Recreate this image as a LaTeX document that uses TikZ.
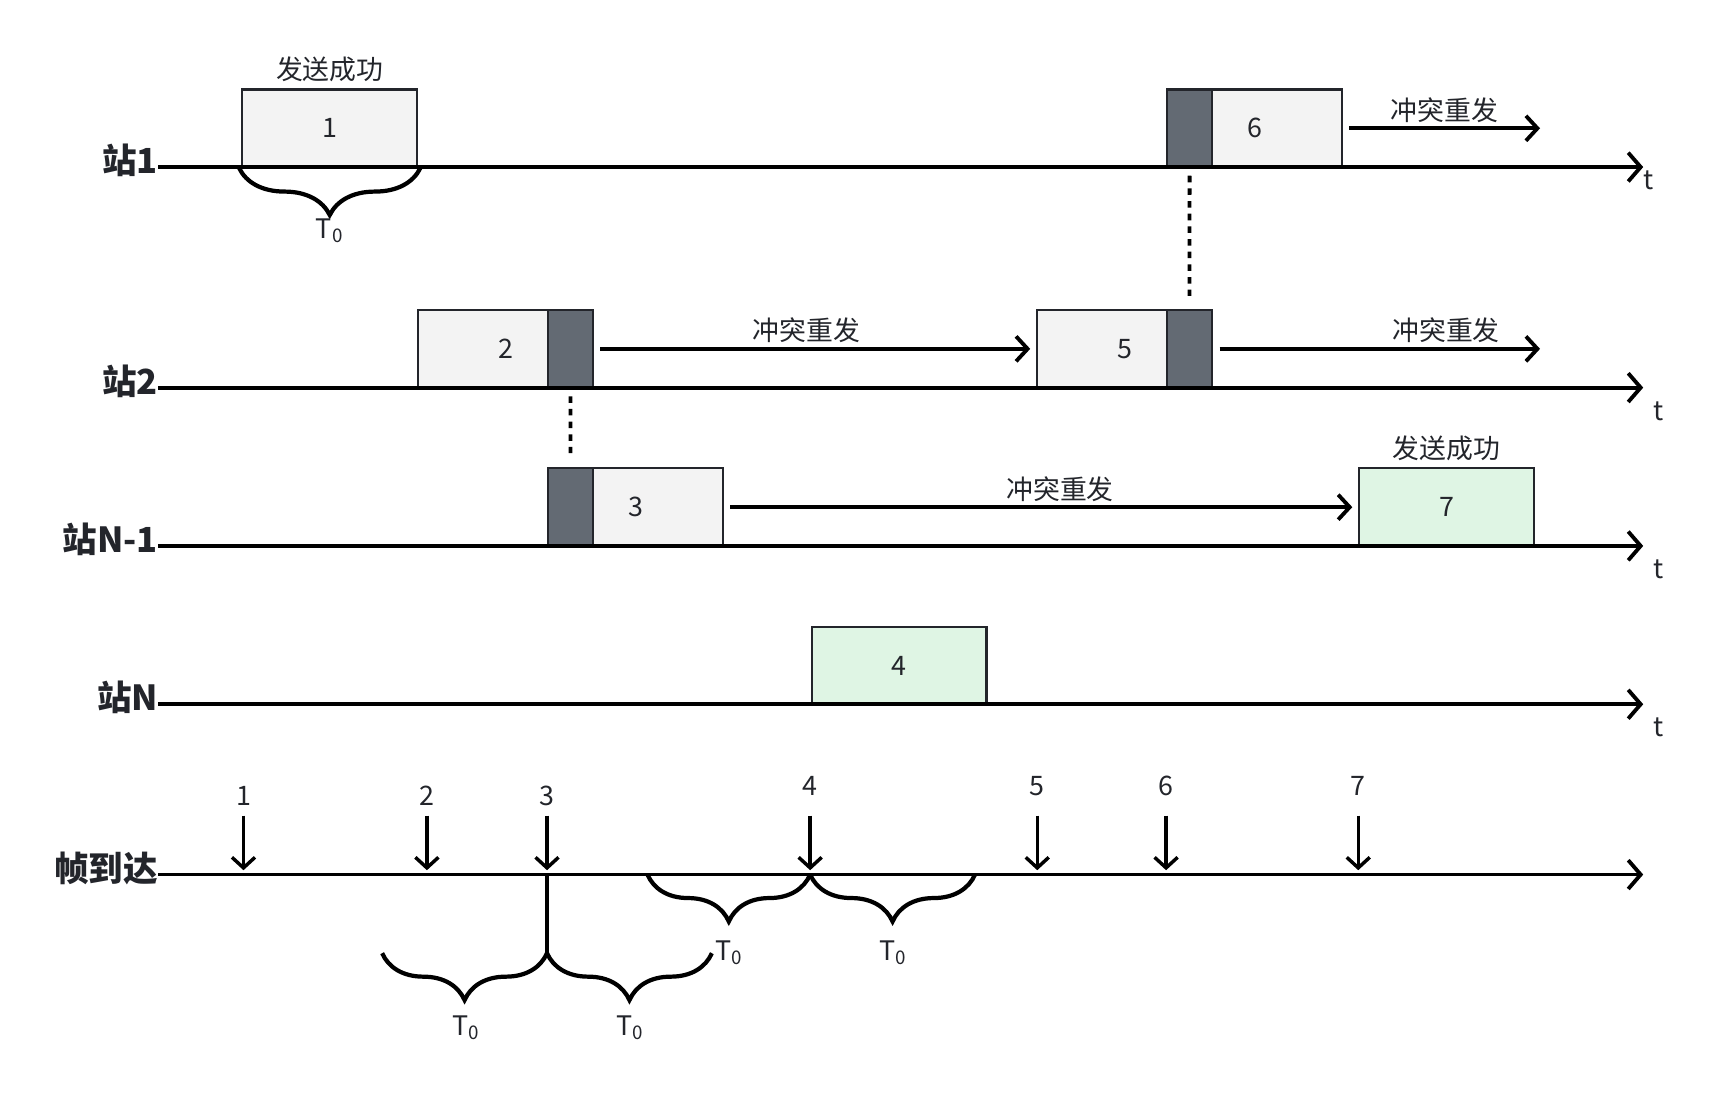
\documentclass[tikz,border=0pt]{standalone}
\usepackage{fontspec}
\setmainfont{Noto Sans CJK SC}
\usetikzlibrary{arrows.meta,positioning,calc,decorations.pathreplacing}
\definecolor{pktgray}{HTML}{F3F3F3}
\definecolor{jamgray}{HTML}{636A73}
\definecolor{okgreen}{HTML}{DFF5E4}
\definecolor{ink}{HTML}{23252B}
\tikzset{
    pkt/.style={draw=ink,line width=1.1pt,fill=pktgray,minimum width=3.2cm,minimum height=1.42cm,inner sep=0pt,text=ink,font=\fontsize{14}{16}\selectfont},
    okpkt/.style={pkt,fill=okgreen},
    jam/.style={draw=ink,line width=1.1pt,fill=jamgray,minimum width=0.82cm,minimum height=1.42cm,inner sep=0pt},
    axis/.style={line width=2pt,-{Straight Barb[length=6.5pt,width=15pt]}},
    resend/.style={line width=2pt,-{Straight Barb[length=6pt,width=13pt]},shorten <=0.12cm,shorten >=0.11cm},
    arrive/.style={line width=1.8pt,-{Straight Barb[length=5.5pt,width=12pt]}},
    brc/.style={line width=2.2pt,decorate,decoration={brace,mirror,amplitude=0.86cm}},
    sync/.style={line width=2pt,dash pattern=on 3.4pt off 3.2pt},
    stlabel/.style={anchor=east,inner sep=0pt,text=ink,font=\bfseries\fontsize{18}{20}\selectfont},
    lbl/.style={inner sep=1pt,text=ink,font=\fontsize{14}{16}\selectfont}
}

\begin{document}
\begin{tikzpicture}[x=0.02cm,y=-0.02cm]
    \useasboundingbox (0,0) rectangle (1568,1002);

    % station 1
    \node[pkt] (p1) at (302,117.5) {1};
    \node[lbl,above=0.08cm of p1] (ok1) {发送成功};
    \node[pkt] (p6) at (1149,117.5) {6};
    \node[jam,anchor=north west] (j6) at (p6.north west) {};
    \coordinate (r6) at (1416,117.5);
    \draw[resend] (p6.east) -- node[lbl,above=1pt] (rs6) {冲突重发} (r6);

    % station 2
    \node[pkt] (p2) at (463,319.5) {2};
    \node[jam,anchor=north east] (j2) at (p2.north east) {};
    \node[pkt] (p5) at (1030,319.5) {5};
    \node[jam,anchor=north east] (j5) at (p5.north east) {};
    \coordinate (r5) at (1416,319.5);
    \draw[resend] (j2.east) -- node[lbl,above=1pt,pos=0.48] (rs2) {冲突重发} (p5.west);
    \draw[resend] (j5.east) -- node[lbl,above=1pt,pos=0.7] (rs5) {冲突重发} (r5);

    % station N-1
    \node[pkt] (p3) at (582,464.5) {3};
    \node[jam,anchor=north west] (j3) at (p3.north west) {};
    \node[okpkt] (p7) at (1325,464.5) {7};
    \node[lbl,above=0.08cm of p7] (ok7) {发送成功};
    \draw[resend] (p3.east) -- node[lbl,above=1pt,pos=0.53] (rs3) {冲突重发} (p7.west);

    % station N
    \node[okpkt] (p4) at (823.5,609.5) {4};

    % collisions
    \draw[sync,shorten <=0.14cm,shorten >=0.24cm] (j6.south) -- (j5.north);
    \draw[sync,shorten <=0.14cm,shorten >=0.26cm] (j2.south) -- (j3.north);

    % time axes
    \foreach \n/\y/\lab in {1/153/站1,2/355/站2,3/500/站N-1,4/645/站N,5/801/帧到达} {
        \coordinate (s\n) at (145,\y);
        \coordinate (e\n) at (1505,\y);
        \node[stlabel] (l\n) at ([yshift=0.12cm]s\n) {\lab};
        \draw[axis] (s\n) -- (e\n);
    }
    \node[lbl] (t1) at (1510,165) {t};
    \foreach \n/\y in {2/377,3/521,4/666} {\node[lbl] (t\n) at (1519,\y) {t};}

    % frame arrivals
    \foreach \i/\x/\ly in {1/223/729,2/391/729,3/501/729,4/742/720,5/950/720,6/1068/720,7/1244/720} {
        \node[lbl] (f\i) at (\x,\ly) {\i};
        \coordinate (ft\i) at (\x,747);
        \coordinate (fa\i) at (\x,797);
        \draw[arrive] (ft\i) -- (fa\i);
    }

    % vulnerable periods
    \draw[brc] ([xshift=-0.04cm]p1.south west) -- ([xshift=0.04cm]p1.south east);
    \node[lbl] (T1) at (302,211) {T\textsubscript{0}};

    \coordinate (c3) at (501,801);
    \coordinate (b3) at (501,873);
    \coordinate (bl) at (350,873);
    \coordinate (br) at (652,873);
    \draw[line width=1.8pt] (c3) -- (b3);
    \draw[brc] (bl) -- (b3);
    \draw[brc] (b3) -- (br);
    \node[lbl] (T2) at (427,941) {T\textsubscript{0}};
    \node[lbl] (T3) at (577,941) {T\textsubscript{0}};

    \coordinate (ul) at (593,801);
    \coordinate (c4) at (742,801);
    \coordinate (ur) at (893,801);
    \draw[brc] (ul) -- (c4);
    \draw[brc] (c4) -- (ur);
    \node[lbl] (T4) at (668,873) {T\textsubscript{0}};
    \node[lbl] (T5) at (818,873) {T\textsubscript{0}};
\end{tikzpicture}
\end{document}
